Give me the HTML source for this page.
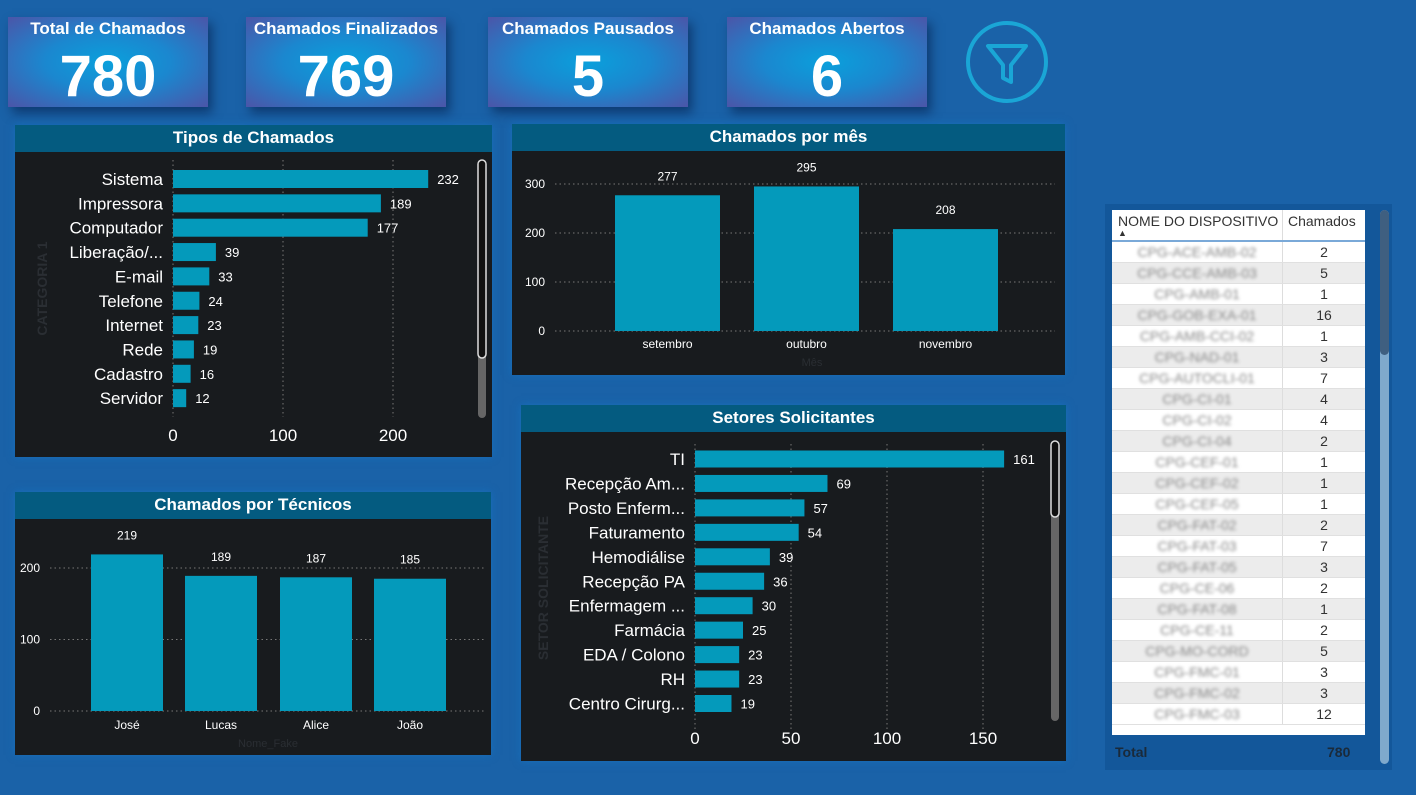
<!DOCTYPE html>
<html><head><meta charset="utf-8"><style>
body{margin:0;width:1416px;height:795px;background:#1a62a8;font-family:"Liberation Sans","DejaVu Sans",sans-serif;overflow:hidden;position:relative}
.kpi{position:absolute;height:90px;width:200px;background:radial-gradient(ellipse at 50% 50%,#0aa0dc 0%,#1b87cf 45%,#4b55a8 100%);color:#fff;text-align:center;box-shadow:4px 6px 10px rgba(0,20,60,.5)}
.kpi .t{font-size:17px;font-weight:bold;margin-top:2px;height:20px}
.kpi .v{font-size:58px;font-weight:bold;line-height:64px;margin-top:6px}
.panel{position:absolute;background:#181b1e;box-shadow:0 0 8px rgba(20,120,200,.6)}
.hdr{background:#045b80;color:#fff;font-weight:bold;font-size:17px;text-align:center;height:27px;line-height:26px}
svg text{font-family:"Liberation Sans",sans-serif}
</style></head><body>
<div class="kpi" style="left:8px;top:17px"><div class="t">Total de Chamados</div><div class="v">780</div></div>
<div class="kpi" style="left:246px;top:17px"><div class="t">Chamados Finalizados</div><div class="v">769</div></div>
<div class="kpi" style="left:488px;top:17px"><div class="t">Chamados Pausados</div><div class="v">5</div></div>
<div class="kpi" style="left:727px;top:17px"><div class="t">Chamados Abertos</div><div class="v">6</div></div>
<svg style="position:absolute;left:964px;top:20px" width="86" height="86"><circle cx="43" cy="42" r="39" fill="none" stroke="#1aa6d6" stroke-width="4"/><path d="M24 26 H62 L47 45 V62 L39 58 V45 Z" fill="none" stroke="#1aa6d6" stroke-width="4" stroke-linejoin="round"/></svg>

<div class="panel" style="left:15px;top:125px;width:477px;height:332px"><div class="hdr">Tipos de Chamados</div><svg id="s1" width="477" height="305"></svg></div>
<div class="panel" style="left:512px;top:124px;width:553px;height:251px"><div class="hdr">Chamados por mês</div><svg id="s2" width="553" height="224"></svg></div>
<div class="panel" style="left:15px;top:492px;width:476px;height:263px"><div class="hdr">Chamados por Técnicos</div><svg id="s3" width="476" height="236"></svg></div>
<div class="panel" style="left:521px;top:405px;width:545px;height:356px"><div class="hdr">Setores Solicitantes</div><svg id="s4" width="545" height="329"></svg></div>

<div style="position:absolute;left:1105px;top:204px;width:287px;height:566px;background:#13579a">
<div id="tbl" style="position:absolute;left:7px;top:6px;width:253px;height:525px;background:#fff;overflow:hidden;font-size:14px;color:#333"></div>
<div style="position:absolute;left:10px;top:540px;font-weight:bold;font-size:14px;color:#1a2a3a">Total</div>
<div style="position:absolute;left:222px;top:540px;font-weight:bold;font-size:14px;color:#1a2a3a">780</div>
<div style="position:absolute;left:275px;top:6px;width:9px;height:554px;border-radius:5px;background:#7fa9cc"><div style="height:145px;border-radius:5px;background:#3f5f80"></div></div>
</div>
<script>
const NS="http://www.w3.org/2000/svg";
function el(p,t,a,txt){const e=document.createElementNS(NS,t);for(const k in a)e.setAttribute(k,a[k]);if(txt!==undefined)e.textContent=txt;p.appendChild(e);return e;}
const C="#049abb";
const tiposCats=["Sistema","Impressora","Computador","Liberação/...","E-mail","Telefone","Internet","Rede","Cadastro","Servidor"];
const tiposVals=[232,189,177,39,33,24,23,19,16,12];
const tiposTicks=[0,100,200];
const mesCats=["setembro","outubro","novembro"];
const mesVals=[277,295,208];
const mesTicks=[0,100,200,300];
const tecCats=["José","Lucas","Alice","João"];
const tecVals=[219,189,187,185];
const tecTicks=[0,100,200];
const setCats=["TI","Recepção Am...","Posto Enferm...","Faturamento","Hemodiálise","Recepção PA","Enfermagem ...","Farmácia","EDA / Colono","RH","Centro Cirurg..."];
const setVals=[161,69,57,54,39,36,30,25,23,23,19];
const setTicks=[0,50,100,150];
const devNames=["CPG-ACE-AMB-02","CPG-CCE-AMB-03","CPG-AMB-01","CPG-GOB-EXA-01","CPG-AMB-CCI-02","CPG-NAD-01","CPG-AUTOCLI-01","CPG-CI-01","CPG-CI-02","CPG-CI-04","CPG-CEF-01","CPG-CEF-02","CPG-CEF-05","CPG-FAT-02","CPG-FAT-03","CPG-FAT-05","CPG-CE-06","CPG-FAT-08","CPG-CE-11","CPG-MO-CORD","CPG-FMC-01","CPG-FMC-02","CPG-FMC-03"];
const devVals=[2,5,1,16,1,3,7,4,4,2,1,1,1,2,7,3,2,1,2,5,3,3,12];

function hbars(svg,cats,vals,ticks,x0,scale,y0,step,bh,gTop,gBot,tickY,name,axisTitle,titleX){
  ticks.forEach(t=>{const x=x0+t*scale;
    el(svg,"line",{x1:x,x2:x,y1:gTop,y2:gBot,stroke:"#777","stroke-dasharray":"1.5,3"});
    const tx=el(svg,"text",{x:x,y:tickY,fill:"#fff","font-size":17,"text-anchor":"middle"},t);
    });
  cats.forEach((c,i)=>{const cy=y0+i*step;
    const r=el(svg,"rect",{x:x0,y:cy-bh/2,width:vals[i]*scale,height:bh,fill:C});
    
    el(svg,"text",{x:x0-10,y:cy+6,fill:"#fff","font-size":17,"text-anchor":"end"},c);
    el(svg,"text",{x:x0+vals[i]*scale+9,y:cy+5,fill:"#fff","font-size":13},vals[i]);});
  el(svg,"text",{transform:`translate(${titleX},${(gTop+gBot)/2}) rotate(-90)`,fill:"#2a2e33","font-size":14,"font-weight":"bold","text-anchor":"middle"},axisTitle);
}
function vbars(svg,cats,vals,ticks,y0,scale,xs,bw,gL,gR,labY,name,axisTitle,titleX){
  ticks.forEach(t=>{const y=y0-t*scale;
    el(svg,"line",{x1:gL,x2:gR,y1:y,y2:y,stroke:"#777","stroke-dasharray":"1.5,3"});
    el(svg,"text",{x:gL-10,y:y+4,fill:"#fff","font-size":12,"text-anchor":"end"},t);});
  cats.forEach((c,i)=>{const h=vals[i]*scale;
    const r=el(svg,"rect",{x:xs[i],y:y0-h,width:bw,height:h,fill:C});
    
    el(svg,"text",{x:xs[i]+bw/2,y:y0-h-15,fill:"#fff","font-size":12,"text-anchor":"middle"},vals[i]);
    el(svg,"text",{x:xs[i]+bw/2,y:labY,fill:"#fff","font-size":12,"text-anchor":"middle"},c);});
  el(svg,"text",{x:titleX,y:labY+18,fill:"#2a2e33","font-size":11,"text-anchor":"middle"},axisTitle);
}
const s1=document.getElementById("s1");
hbars(s1,tiposCats,tiposVals,tiposTicks,158,1.1,27,24.35,18,8,265,289,"tipos","CATEGORIA 1",32);
el(s1,"rect",{x:463,y:8,width:8,height:258,rx:4,fill:"#666"});
el(s1,"rect",{x:463,y:8,width:8,height:198,rx:4,fill:"#111",stroke:"#ddd","stroke-width":1.5});
const s2=document.getElementById("s2");
vbars(s2,mesCats,mesVals,mesTicks,180,0.49,[103,242,381],105,43,543,197,"mes","Mês",300);
const s3=document.getElementById("s3");
vbars(s3,tecCats,tecVals,tecTicks,192,0.715,[76,170,265,359],72,35,470,210,"tecnico","Nome_Fake",253);
const s4=document.getElementById("s4");
hbars(s4,setCats,setVals,setTicks,174,1.92,27,24.45,17,12,300,312,"setor","SETOR SOLICITANTE",27);
el(s4,"rect",{x:530,y:9,width:8,height:280,rx:4,fill:"#666"});
el(s4,"rect",{x:530,y:9,width:8,height:76,rx:4,fill:"#111",stroke:"#ddd","stroke-width":1.5});
const tbl=document.getElementById("tbl");
tbl.innerHTML='<div style="height:30px;border-bottom:2px solid #7aa9d8;position:relative"><span style="position:absolute;left:6px;top:3px">NOME DO DISPOSITIVO</span><span style="position:absolute;left:6px;top:18px;font-size:9px">▲</span><span style="position:absolute;left:176px;top:3px">Chamados</span><div style="position:absolute;left:170px;top:0;width:1px;height:30px;background:#ddd"></div></div>';
devNames.forEach((n,i)=>{const r=document.createElement("div");


r.style.cssText=`height:20px;line-height:20px;position:relative;background:${i%2?"#ececec":"#fff"};border-bottom:1px solid #e0e0e0`;
r.innerHTML=`<span style="position:absolute;left:0;width:170px;text-align:center;color:#888;filter:blur(1.5px)">${n}</span><span style="position:absolute;left:171px;width:82px;text-align:center">${devVals[i]}</span><div style="position:absolute;left:170px;top:0;width:1px;height:20px;background:#ddd"></div>`;
tbl.appendChild(r);});
</script>
</body></html>
